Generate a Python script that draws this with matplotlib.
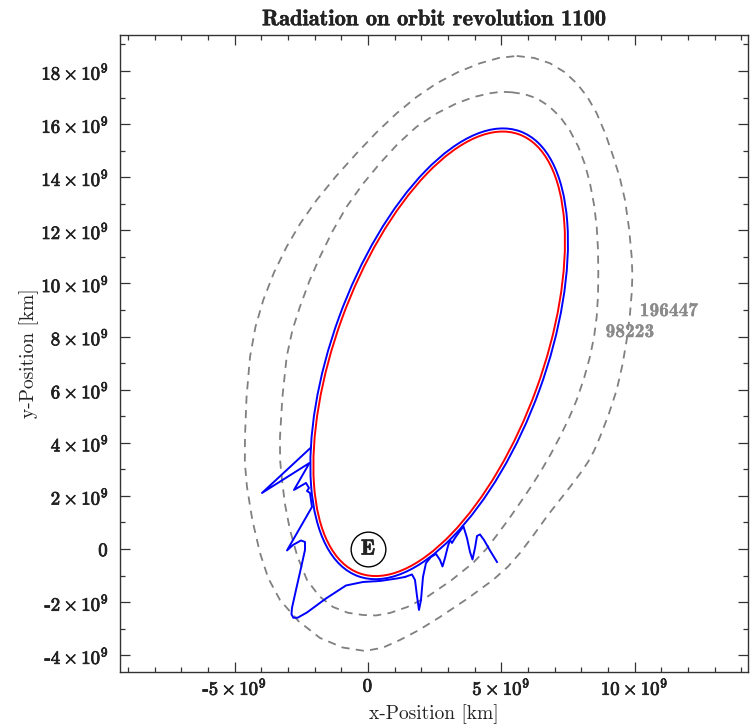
import numpy as np
import matplotlib
matplotlib.use("Agg")
import matplotlib.pyplot as plt
import matplotlib.patheffects as pe
from matplotlib.patches import Ellipse
from matplotlib.ticker import MultipleLocator

plt.rcParams['mathtext.fontset'] = 'cm'

UNIT = 1e9  # all values below are in 10^9 km

# --- orbit ellipses (center x, center y, semi-major, semi-minor, angle deg) ---
red_orbit = dict(cx=2.67, cy=7.35, a=8.79, b=3.88, angle=70.1)
blue_orbit = dict(cx=2.67, cy=7.35, a=8.91, b=4.00, angle=70.1)

# --- perturbed trajectory excursions (blue) ---
left_x = [-2.157, -3.976, -2.194, -2.776, -2.326, -2.213, -2.288, -2.176, -2.138, -2.101,
          -3.038, -2.813, -2.513, -2.363, -2.363, -2.513, -2.701, -2.851, -2.870, -2.800,
          -2.640, -2.288, -1.575, -0.825, -0.188, 0.450, 1.088, 1.388]
left_y = [3.804, 2.109, 3.239, 2.222, 2.486, 2.297, 2.184, 2.109, 1.845, 1.582,
          -0.056, 0.151, 0.320, 0.264, -0.038, -0.716, -1.544, -2.222, -2.460, -2.590,
          -2.590, -2.391, -1.864, -1.375, -1.243, -1.205, -1.111, -1.054]

right_x = [1.388, 1.650, 1.763, 1.838, 1.913, 1.988, 2.063, 2.176, 2.363, 2.551,
           2.701, 2.795, 2.888, 3.001, 3.076, 3.151, 3.263, 3.451, 3.582, 3.713,
           3.826, 3.920, 4.014, 4.089, 4.201, 4.351, 4.576, 4.839]
right_y = [-1.054, -0.960, -1.167, -1.770, -2.297, -1.921, -1.054, -0.527, -0.301, -0.188,
           -0.414, -0.659, -0.339, 0.113, 0.339, 0.226, 0.414, 0.678, 0.847, 0.414,
           -0.113, -0.395, 0.038, 0.490, 0.546, 0.339, -0.056, -0.490]

# --- radiation contours (dashed) ---
outer_x = [5.578, 6.226, 6.827, 7.358, 7.828, 8.227, 8.579, 8.909, 9.201, 9.444,
           9.640, 9.793, 9.891, 9.918, 9.891, 9.821, 9.704, 9.544, 9.329, 9.020,
           8.702, 8.480, 8.252, 7.938, 7.577, 7.188, 6.752, 6.238, 5.702, 5.254,
           4.689, 3.726, 2.701, 1.908, 1.200, 0.555, -0.113, -0.945, -1.800, -2.609,
           -3.301, -3.740, -4.051, -4.337, -4.539, -4.619, -4.614, -4.556, -4.426, -4.220,
           -3.927, -3.528, -3.050, -2.526, -1.924, -1.198, -0.424, 0.326, 1.077, 1.819,
           2.577, 3.397, 4.201, 4.913, 5.578]
outer_y = [18.566, 18.493, 18.291, 17.968, 17.538, 17.028, 16.408, 15.622, 14.774, 13.989,
           13.143, 12.060, 11.008, 10.296, 9.630, 8.782, 7.871, 6.930, 5.988, 5.044,
           4.218, 3.695, 3.276, 2.812, 2.335, 1.838, 1.280, 0.562, -0.151, -0.661,
           -1.167, -1.873, -2.561, -3.055, -3.427, -3.718, -3.841, -3.712, -3.352, -2.716,
           -1.921, -1.102, -0.151, 1.085, 2.335, 3.243, 4.218, 5.708, 7.231, 8.367,
           9.377, 10.406, 11.385, 12.280, 13.143, 14.038, 14.902, 15.694, 16.408, 17.020,
           17.538, 17.968, 18.291, 18.493, 18.566]

inner_x = [5.390, 5.855, 6.328, 6.781, 7.202, 7.572, 7.888, 8.135, 8.327, 8.477,
           8.579, 8.628, 8.639, 8.628, 8.579, 8.481, 8.327, 8.101, 7.828, 7.528,
           7.202, 6.855, 6.489, 6.104, 5.702, 5.277, 4.839, 4.443, 3.939, 3.107,
           2.213, 1.475, 0.825, 0.302, -0.188, -0.753, -1.313, -1.831, -2.288, -2.649,
           -2.926, -3.112, -3.226, -3.297, -3.301, -3.211, -3.050, -2.832, -2.551, -2.206,
           -1.800, -1.331, -0.799, -0.198, 0.450, 1.123, 1.827, 2.585, 3.327, 3.994,
           4.576, 5.003, 5.390]
inner_y = [17.199, 17.132, 16.973, 16.683, 16.280, 15.758, 15.151, 14.493, 13.772, 12.978,
           12.138, 11.260, 10.383, 9.550, 8.748, 7.994, 7.242, 6.419, 5.611, 4.899,
           4.229, 3.572, 2.937, 2.329, 1.732, 1.120, 0.527, 0.005, -0.527, -1.195,
           -1.808, -2.185, -2.410, -2.504, -2.486, -2.403, -2.184, -1.774, -1.167, -0.280,
           0.716, 1.674, 2.599, 3.338, 4.218, 5.713, 7.242, 8.254, 9.125, 10.067,
           11.008, 11.965, 12.891, 13.740, 14.525, 15.261, 15.904, 16.408, 16.785, 17.026,
           17.162, 17.218, 17.199]

contour_labels = ["196447", "98223"]
contour_label_x = [11.29, 9.83]
contour_label_y = [8.96, 8.17]

earth_x, earth_y = 0.0, 0.0

xtick_vals = [-5, 0, 5, 10]
xtick_labels = [r'-$\mathbf{5\times10^{9}}$', r'$\mathbf{0}$', r'$\mathbf{5\times10^{9}}$',
                r'$\mathbf{10\times10^{9}}$']
ytick_vals = [-4, -2, 0, 2, 4, 6, 8, 10, 12, 14, 16, 18]
ytick_labels = [(r'-$\mathbf{%d\times10^{9}}$' % abs(v)) if v < 0 else
                (r'$\mathbf{0}$' if v == 0 else r'$\mathbf{%d\times10^{9}}$' % v)
                for v in ytick_vals]

fig = plt.figure(figsize=(7.5, 7.27), dpi=100)
ax = fig.add_axes([0.16, 0.0757, 0.83733, 0.8762])

gray = '#808080'
ax.plot(np.array(outer_x) * UNIT, np.array(outer_y) * UNIT, ls=(0, (4.5, 3.5)),
        color=gray, lw=1.3)
ax.plot(np.array(inner_x) * UNIT, np.array(inner_y) * UNIT, ls=(0, (4.5, 3.5)),
        color=gray, lw=1.3)

for orb, col in [(blue_orbit, '#0000ff'), (red_orbit, '#ff0000')]:
    e = Ellipse((orb['cx'] * UNIT, orb['cy'] * UNIT), 2 * orb['a'] * UNIT, 2 * orb['b'] * UNIT,
                angle=orb['angle'], fill=False, edgecolor=col, lw=1.4, zorder=3)
    ax.add_patch(e)

ax.plot(np.array(left_x) * UNIT, np.array(left_y) * UNIT, color='#0000ff', lw=1.4, zorder=3)
ax.plot(np.array(right_x) * UNIT, np.array(right_y) * UNIT, color='#0000ff', lw=1.4, zorder=3)

bold_fx = [pe.withStroke(linewidth=0.5, foreground='#222222')]
ax.plot([earth_x * UNIT], [earth_y * UNIT], 'o', ms=25, mfc='white', mec='black', mew=1.0, zorder=4)
ax.text(earth_x * UNIT, earth_y * UNIT, 'E', ha='center', va='center', fontfamily='cmb10',
        fontsize=15.5, zorder=5, color='#222222', path_effects=bold_fx)

for t, x, y in zip(contour_labels, contour_label_x, contour_label_y):
    ax.text(x * UNIT, y * UNIT, t, ha='center', va='center', color='#8a8a8a', fontfamily='cmb10',
            fontsize=14, path_effects=[pe.withStroke(linewidth=0.2, foreground='#8a8a8a')])

ax.set_xlim(-9.302 * UNIT, 14.254 * UNIT)
ax.set_ylim(-4.632 * UNIT, 19.357 * UNIT)

ax.set_xticks([v * UNIT for v in xtick_vals], xtick_labels)
ax.set_yticks([v * UNIT for v in ytick_vals], ytick_labels)
ax.xaxis.set_minor_locator(MultipleLocator(1 * UNIT))
ax.yaxis.set_minor_locator(MultipleLocator(1 * UNIT))
ax.tick_params(which='both', direction='in', top=True, right=True, width=0.9, color='#333333')
ax.tick_params(which='major', length=7.2)
ax.tick_params(which='minor', length=3.6)
ax.tick_params(axis='y', which='major', pad=8, labelsize=13.5, labelcolor='#222222')
ax.tick_params(axis='x', which='major', pad=4, labelsize=13.5, labelcolor='#222222')
for lbl in ax.get_xticklabels() + ax.get_yticklabels():
    lbl.set_fontfamily('cmb10')
    lbl.set_path_effects([pe.withStroke(linewidth=0.6, foreground='#222222')])
for s in ax.spines.values():
    s.set_linewidth(1.0)
    s.set_color('#333333')

ax.set_title('Radiation on orbit revolution 1100', fontfamily='cmb10', fontsize=16.2, pad=7,
             color='#222222', path_effects=[pe.withStroke(linewidth=0.3, foreground='#222222')])
ax.set_xlabel('x-Position [km]', fontfamily='cmr10', fontsize=14, labelpad=4, color='#222222')
ax.set_ylabel('y-Position [km]', fontfamily='cmr10', fontsize=14, labelpad=2, color='#222222')

fig.savefig('out.png', dpi=100)
